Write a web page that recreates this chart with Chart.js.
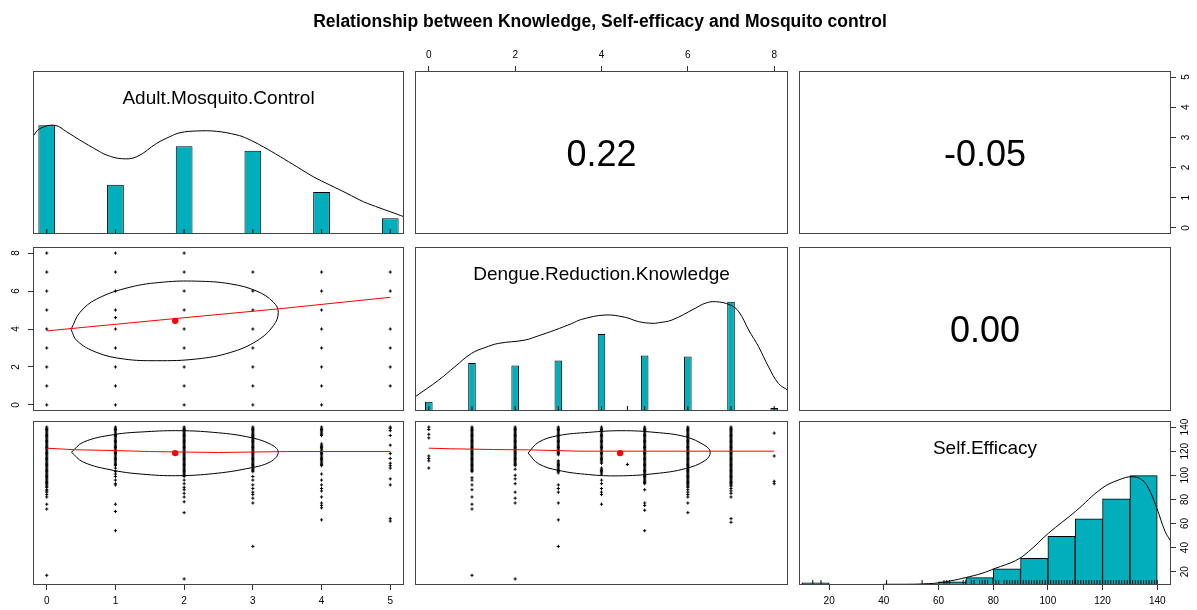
<!DOCTYPE html>
<html>
<head>
<meta charset="utf-8">
<title>Relationship between Knowledge, Self-efficacy and Mosquito control</title>
<script src="https://cdn.jsdelivr.net/npm/chart.js"></script>
<style>
  html, body { margin: 0; padding: 0; background: #fff; }
  #wrap { position: relative; width: 1197px; height: 610px; overflow: hidden;
          font-family: "Liberation Sans", Arial, Helvetica, sans-serif; }
  #wrap canvas { position: absolute; left: 0; top: 0; }
  .txt { position: absolute; display: flex; align-items: center; justify-content: center;
         color: #000; white-space: nowrap; }
</style>
</head>
<body>
<div id="wrap"></div>
<script>
// ---------- values ----------
var varNames = ["Adult.Mosquito.Control", "Dengue.Reduction.Knowledge", "Self.Efficacy"];
var corrLabels = ["0.22", "-0.05", "0.00"];          // upper panels (1,2) (1,3) (2,3)

var adultRange = [0, 5];
var dengueRange = [0, 8];
var selfEffRange = [14, 140];

var adultLevels = [0, 1, 2, 3, 4, 5];
var dengueLevels = [0, 1, 2, 3, 4, 4.6, 5, 6, 7, 8];

// diagonal histograms, heights relative to tallest bar
var adultHist = [1.0, 0.454, 0.807, 0.766, 0.386, 0.144];
var dengueHist = [0.085, 0.44, 0.417, 0.462, 0.705, 0.01, 0.508, 0.498, 1.0, 0.027];
var selfEffBins = [15, 25, 35, 45, 55, 65, 75, 85, 95, 105, 115, 125, 135];
var selfEffHist = [0.02, 0, 0, 0.01, 0.01, 0.03, 0.067, 0.147, 0.245, 0.446, 0.606, 0.789, 1.0];

// density curves (max = 1)
var adultDensX = [-0.2, -0.1, 0.12, 0.29, 0.48, 0.73, 0.87, 1.09, 1.31, 1.6, 1.79, 1.94, 2.18, 2.47, 2.77, 2.91, 3.15, 3.4, 3.64, 3.88, 4.12, 4.37, 4.61, 4.85, 5.0, 5.2];
var adultDensY = [0.9, 0.97, 1.0, 0.94, 0.865, 0.773, 0.727, 0.693, 0.711, 0.834, 0.895, 0.932, 0.948, 0.945, 0.911, 0.88, 0.803, 0.711, 0.619, 0.527, 0.451, 0.374, 0.297, 0.239, 0.205, 0.159];
var dengueDensX = [-0.3, 0.22, 0.6, 0.99, 1.3, 1.61, 2.23, 2.54, 2.92, 3.31, 3.54, 4.08, 4.55, 4.86, 5.17, 5.32, 5.63, 6.17, 6.4, 6.64, 6.98, 7.18, 7.41, 7.64, 7.87, 8.1, 8.32];
var dengueDensY = [0.135, 0.28, 0.404, 0.527, 0.58, 0.618, 0.649, 0.688, 0.74, 0.8, 0.838, 0.878, 0.857, 0.817, 0.802, 0.807, 0.832, 0.939, 0.985, 1.0, 0.97, 0.908, 0.74, 0.587, 0.404, 0.251, 0.19];
var selfEffDensX = [9, 50, 56.3, 60, 64.9, 69.8, 75.9, 80.7, 88.1, 92.9, 100.2, 110, 119.8, 125.9, 130.8, 134.4, 136.8, 139.9, 142.9, 145.1];
var selfEffDensY = [0.003, 0.005, 0.012, 0.02, 0.04, 0.067, 0.107, 0.152, 0.222, 0.305, 0.473, 0.671, 0.885, 0.961, 0.991, 0.961, 0.885, 0.7, 0.488, 0.396];

// Dengue knowledge observed at each Adult.Mosquito.Control level
var dengueByAdult = [
  [0, 1, 2, 3, 4, 5, 6, 7, 8],
  [0, 1, 2, 3, 4, 4.6, 5, 6, 7, 8],
  [0, 1, 2, 3, 4, 5, 6, 7, 8],
  [0, 1, 2, 3, 4, 5, 6, 7],
  [0, 1, 2, 3, 4, 5, 6, 7],
  [1, 2, 3, 4, 6, 7]
];

// Self.Efficacy observed at each Adult.Mosquito.Control level
var seByAdult = [
  [140,139,138,137,136,135,134,133,132,131,130,129,128,127,126,125,124,123,122,121,120,119,118,117,116,115,114,113,112,111,110,109,108,107,106,105,104,103,102,101,100,99,98,97,96,95,94,93,92,91,90,88,87,86,84,82,76,72,17],
  [140,139,138,137,136,135,134,133,132,131,130,129,128,127,126,125,124,123,122,121,120,119,118,117,116,115,114,113,112,111,110,109,108,106,103,101,99,96,93,92,76,70,54],
  [140,139,138,137,136,135,134,133,132,131,130,129,128,127,126,125,124,123,122,121,120,119,118,117,116,115,114,113,112,111,110,109,108,107,106,105,104,103,102,101,100,99,96,93,90,88,85,82,78,69,14],
  [140,139,138,137,136,135,134,133,132,131,130,129,128,127,126,125,124,123,122,121,120,119,118,117,116,115,114,113,112,111,110,109,108,107,106,105,104,103,99,96,92,89,86,84,81,77,41],
  [140,139,138,137,136,135,134,133,126,125,124,123,122,121,120,119,118,117,116,115,114,113,112,111,110,109,108,101,96,92,89,87,82,77,75,73,63],
  [140,139,137,133,125,118,114,110,108,106,97,92,64,62]
];

// Self.Efficacy observed at each Dengue level
var seByDengue = [
  [140,138,134,131,116,114,112,106],
  [140,139,138,137,136,135,134,133,132,131,130,129,128,127,126,125,124,123,122,121,120,119,118,117,116,115,114,113,112,111,110,109,108,107,106,105,104,103,98,96,92,88,82,76,72,17],
  [140,139,138,137,136,135,134,133,132,131,130,129,128,127,126,125,124,123,122,121,120,119,118,117,116,115,114,113,112,111,110,109,108,105,100,97,93,86,81,77,14],
  [140,139,138,137,136,135,134,133,132,131,130,129,128,127,126,125,124,123,122,121,120,119,118,117,112,111,110,109,108,107,106,105,104,103,102,92,89,86,77,63,41],
  [140,139,138,137,136,135,134,133,132,131,130,129,128,127,126,125,124,123,122,121,120,119,118,117,116,115,114,113,112,111,110,106,105,104,103,102,101,96,93,89,86,84,76],
  [109],
  [140,139,138,137,136,135,134,133,132,131,130,129,128,127,126,125,124,123,122,121,120,119,118,117,116,115,114,113,112,111,110,109,108,107,106,105,104,103,102,101,100,99,98,97,96,95,94,93,88,77,75,71,54],
  [140,139,138,137,136,135,134,133,132,131,130,129,128,127,126,125,124,123,122,121,120,119,118,117,116,115,114,113,112,111,110,109,108,107,106,105,104,103,102,101,100,99,98,97,96,95,94,93,92,91,90,88,86,84,82,77,69],
  [140,139,138,137,136,135,134,133,132,131,130,129,128,127,126,125,124,123,122,121,120,119,118,117,116,115,114,113,112,111,110,109,108,107,106,105,104,103,102,101,100,99,98,97,96,95,94,93,92,91,89,87,85,82,64,61],
  [135,116,95,93]
];

// means (red dots)
var adultMean = 1.87, dengueMean = 4.43, selfEffMean = 118.4;

// correlation ellipses, traced round the outline
var ell21X = [0.354, 0.485, 0.728, 1.21, 1.70, 2.18, 2.67, 3.06, 3.30, 3.37, 3.30, 3.06, 2.67, 2.18, 1.60, 1.12, 0.73, 0.44, 0.354];
var ell21Y = [3.98, 4.88, 5.58, 6.2, 6.47, 6.52, 6.38, 5.99, 5.41, 4.88, 4.18, 3.38, 2.76, 2.42, 2.33, 2.42, 2.76, 3.38, 3.98];
var ell31X = [0.36, 0.53, 0.97, 1.46, 1.94, 2.43, 2.91, 3.25, 3.37, 3.25, 2.91, 2.43, 1.94, 1.46, 0.97, 0.53, 0.36];
var ell31Y = [119.2, 127.4, 133.7, 136.2, 137, 135.6, 132, 126, 119.2, 111, 105.5, 101.4, 99.7, 100.6, 104.1, 111, 119.2];
var ell32X = [2.30, 2.54, 3.0, 3.70, 4.47, 5.24, 5.94, 6.40, 6.52, 6.40, 5.94, 5.24, 4.39, 3.70, 3.0, 2.54, 2.30];
var ell32Y = [118.4, 127.4, 132.9, 135.6, 137, 135.6, 132, 124.6, 119.2, 112.3, 105.5, 101.4, 99.5, 100.6, 104.1, 109.6, 118.4];

// smoothed fits (red lines)
var fit21X = [0, 1.87, 3.37, 5];
var fit21Y = [3.9, 4.55, 5.06, 5.67];
var fit31X = [0, 0.4, 1, 1.5, 2.5, 3.5, 5];
var fit31Y = [122.5, 121.2, 120.5, 119.7, 118.9, 119.7, 119.7];
var fit32X = [0, 0.5, 1.5, 2.3, 3.5, 4.9, 8];
var fit32Y = [122.5, 122, 121.4, 121.1, 120, 120, 120];

// ---------- layout ----------
var W = 1197, H = 610, AX = 22;
var FONT = '"Liberation Sans", Arial, Helvetica, sans-serif';
var TEAL = '#00AFBB';
var colX = [[33, 404], [415, 788], [799, 1171]];
var rowY = [[71, 234], [247, 411], [421, 585]];
var wrap = document.getElementById('wrap');

function lim(r) { var d = (r[1] - r[0]) * 0.04; return [r[0] - d, r[1] + d]; }
var histLim = [0, 1.5];

function pair(xs, ys) { return xs.map(function (x, i) { return {x: x, y: ys[i]}; }); }

function scaleCfg(axis, range, step, pos, pad) {
  var cfg = {
    type: 'linear', axis: axis, min: range[0], max: range[1], offset: false,
    display: !!pos, position: pos || (axis === 'x' ? 'bottom' : 'left'),
    grid: {display: true, offset: false, drawOnChartArea: false, drawTicks: true,
           tickLength: 5, color: '#333', lineWidth: 1},
    border: {display: false},
    ticks: {stepSize: step, includeBounds: false, autoSkip: false, padding: pad || 0,
            color: '#000', font: {family: FONT, size: 10}}
  };
  if (pos) {
    cfg.afterFit = function (s) { if (axis === 'x') s.height = AX; else s.width = AX; };
  }
  if (axis === 'y') {
    cfg.ticks.minRotation = 90; cfg.ticks.maxRotation = 90; cfg.ticks.crossAlign = 'center';
  }
  return cfg;
}

var framePlugin = {
  id: 'frame',
  afterDraw: function (chart) {
    var a = chart.chartArea, ctx = chart.ctx;
    ctx.save();
    ctx.strokeStyle = '#444';
    ctx.lineWidth = 1;
    ctx.strokeRect(a.left + 0.5, a.top + 0.5, a.right - a.left - 1, a.bottom - a.top - 1);
    ctx.restore();
  }
};

function panel(row, col, spec) {
  var box = {l: colX[col][0], r: colX[col][1], t: rowY[row][0], b: rowY[row][1]};
  var scales = {
    x: scaleCfg('x', spec.x, spec.xStep, spec.xPos, spec.xPad),
    y: scaleCfg('y', spec.y, spec.yStep, spec.yPos, spec.yPad)
  };
  if (spec.extra) {
    scales.yExtra = scaleCfg('y', spec.extra.range, spec.extra.step, spec.extra.pos, spec.extra.pad);
  }
  var used = {left: 0, right: 0, top: 0, bottom: 0};
  Object.keys(scales).forEach(function (k) {
    if (scales[k].display) used[scales[k].position] = AX;
  });
  var cv = document.createElement('canvas');
  cv.width = W; cv.height = H;
  wrap.appendChild(cv);
  new Chart(cv, {
    type: 'scatter',
    data: {datasets: spec.datasets || []},
    options: {
      responsive: false, animation: false, devicePixelRatio: 1, events: [],
      layout: {
        autoPadding: false,
        padding: {left: box.l - used.left, right: W - box.r - used.right,
                  top: box.t - used.top, bottom: H - box.b - used.bottom}
      },
      plugins: {legend: {display: false}, tooltip: {enabled: false}, title: {display: false}},
      scales: scales
    },
    plugins: [framePlugin]
  });
  return box;
}

function diagSets(levels, heights, barPct, densX, densY, rugVals, boxH) {
  var rugY = 0.03 * histLim[1] / 2;
  return [
    {data: rugVals.map(function (v) { return {x: v, y: rugY}; }),
     pointStyle: 'line', pointRotation: 90, pointRadius: 0.015 * boxH,
     pointBorderColor: '#000', pointBorderWidth: 1},
    {data: pair(densX, densY), showLine: true, borderColor: '#000', borderWidth: 1,
     pointRadius: 0, tension: 0.4},
    {type: 'bar', data: pair(levels, heights), backgroundColor: TEAL, borderColor: '#000',
     borderWidth: 1, borderSkipped: false, barPercentage: barPct, categoryPercentage: 1}
  ];
}

function scatterSets(levels, lists, ellX, ellY, fitX, fitY, mx, my) {
  var pts = [];
  levels.forEach(function (x, i) {
    lists[i].forEach(function (y) { pts.push({x: x, y: y}); });
  });
  return [
    {data: [{x: mx, y: my}], pointStyle: 'circle', pointRadius: 3.2,
     pointBackgroundColor: '#ff0000', pointBorderColor: '#ff0000', pointBorderWidth: 0},
    {data: pair(fitX, fitY), showLine: true, borderColor: '#ff0000', borderWidth: 1,
     pointRadius: 0, tension: 0},
    {data: pair(ellX, ellY), showLine: true, borderColor: '#000', borderWidth: 1,
     pointRadius: 0, tension: 0.4},
    {data: pts, pointStyle: 'cross', pointRadius: 1.6, pointBorderColor: '#000',
     pointBorderWidth: 1}
  ];
}

function addText(txt, cx, cy, size, bold) {
  var d = document.createElement('div');
  d.className = 'txt';
  d.textContent = txt;
  d.style.left = (cx - 400) + 'px';
  d.style.width = '800px';
  d.style.top = (cy - 30) + 'px';
  d.style.height = '60px';
  d.style.fontSize = size + 'px';
  if (bold) d.style.fontWeight = 'bold';
  wrap.appendChild(d);
}

// rug values for Self.Efficacy: every distinct score seen
var seRug = [];
seByAdult.forEach(function (l) { l.forEach(function (v) { if (seRug.indexOf(v) < 0) seRug.push(v); }); });

var aLim = lim(adultRange), dLim = lim(dengueRange), sLim = lim(selfEffRange);

// row 1
var b00 = panel(0, 0, {x: aLim, xStep: 1, y: histLim, yStep: 0.5,
  datasets: diagSets(adultLevels, adultHist, 2 * (adultLevels.length - 1) / 41,
                     adultDensX, adultDensY, adultLevels, 163)});
var b01 = panel(0, 1, {x: dLim, xStep: 2, xPos: 'top', xPad: 5, y: aLim, yStep: 1});
var b02 = panel(0, 2, {x: sLim, xStep: 20, y: aLim, yStep: 1, yPos: 'right', yPad: 7});

// row 2
var b10 = panel(1, 0, {x: aLim, xStep: 1, y: dLim, yStep: 2, yPos: 'left', yPad: 9,
  datasets: scatterSets(adultLevels, dengueByAdult, ell21X, ell21Y, fit21X, fit21Y, adultMean, dengueMean)});
var b11 = panel(1, 1, {x: dLim, xStep: 2, y: histLim, yStep: 0.5,
  datasets: diagSets(dengueLevels, dengueHist, 2 * (dengueLevels.length - 1) / 41,
                     dengueDensX, dengueDensY, dengueLevels, 164)});
var b12 = panel(1, 2, {x: sLim, xStep: 20, y: dLim, yStep: 2});

// row 3
var b20 = panel(2, 0, {x: aLim, xStep: 1, xPos: 'bottom', xPad: 5, y: sLim, yStep: 20,
  datasets: scatterSets(adultLevels, seByAdult, ell31X, ell31Y, fit31X, fit31Y, adultMean, selfEffMean)});
var b21 = panel(2, 1, {x: dLim, xStep: 2, y: sLim, yStep: 20,
  datasets: scatterSets(dengueLevels, seByDengue, ell32X, ell32Y, fit32X, fit32Y, dengueMean, selfEffMean)});
var b22 = panel(2, 2, {x: sLim, xStep: 20, xPos: 'bottom', xPad: 5, y: histLim, yStep: 0.5,
  extra: {range: sLim, step: 20, pos: 'right', pad: 1},
  datasets: diagSets(selfEffBins, selfEffHist, 1, selfEffDensX, selfEffDensY, seRug, 164)});

// text
addText("Relationship between Knowledge, Self-efficacy and Mosquito control", 600, 21, 17.5, true);
[b00, b11, b22].forEach(function (b, i) { addText(varNames[i], (b.l + b.r) / 2, b.t + 27, 19); });
[b01, b02, b12].forEach(function (b, i) { addText(corrLabels[i], (b.l + b.r) / 2, (b.t + b.b) / 2 + 1, 36); });
</script>
</body>
</html>
